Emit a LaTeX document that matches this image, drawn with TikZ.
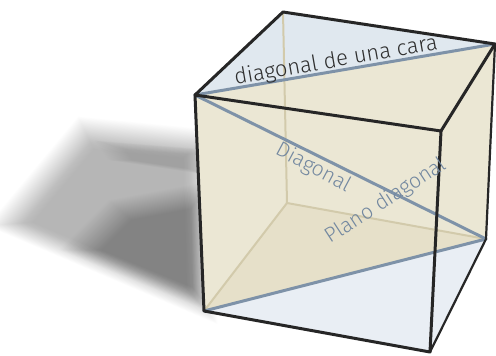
\documentclass[tikz,border=0pt]{standalone}
\usepackage{fontspec}
\setmainfont{Fira Sans Light}
\definecolor{edgeblack}{HTML}{262626}
\definecolor{hiddenbeige}{HTML}{D2CAAB}
\definecolor{diagblue}{HTML}{7E92A8}
\definecolor{planebeige}{HTML}{EBE7D4}
\definecolor{deepbeige}{HTML}{E6E0C9}
\definecolor{glassblue}{HTML}{E0E8EF}
\definecolor{floorblue}{HTML}{E9EEF4}
\definecolor{labeldark}{HTML}{2E2E2E}
\definecolor{labelblue}{HTML}{7388A0}
\begin{document}
\begin{tikzpicture}[x=1pt,y=-1pt,
  edge/.style={draw=edgeblack, line width=3pt, line join=round, line cap=round},
  thinedge/.style={draw=edgeblack, line width=2.2pt, line join=round, line cap=round},
  hidden/.style={draw=hiddenbeige, line width=2pt, line cap=round},
  diag/.style={draw=diagblue, line width=3pt, line cap=round},
  lbl/.style={font=\fontsize{21}{21}\selectfont, inner sep=0pt},
]
\useasboundingbox (0,0) rectangle (496,356);

% soft shadow on the floor, built from many thin translucent layers
\foreach \s in {1.2,1.19,...,0.8}{
  \fill[black, opacity=0.009, scale around={\s:(125,215)}]
    (86,133) -- (198,144) -- (202,306) -- (10,224) -- cycle;
}
\foreach \s in {1.25,1.24,...,0.75}{
  \fill[black, opacity=0.004, scale around={\s:(165,250)}]
    (120,210) -- (200,195) -- (202,300) -- (80,250) -- cycle;
}
\foreach \s in {1.3,1.27,...,0.7}{
  \fill[black, opacity=0.006, scale around={\s:(160,160)}]
    (110,145) -- (200,152) -- (200,172) -- (120,160) -- cycle;
}

% cube corners
\coordinate (FTL) at (195,95);
\coordinate (FTR) at (441,131);
\coordinate (FBR) at (430,352);
\coordinate (FBL) at (204,311);
\coordinate (BTL) at (283,12);
\coordinate (BTR) at (495,44);
\coordinate (BBR) at (486,239);
\coordinate (BBL) at (287,203);

% glass body
\fill[floorblue] (FTL) -- (BTL) -- (BTR) -- (BBR) -- (FBR) -- (FBL) -- cycle;
% diagonal plane
\fill[planebeige] (FTL) -- (BTR) -- (BBR) -- (FBL) -- cycle;
\fill[deepbeige] (BBL) -- (BBR) -- (FBL) -- cycle;
% upper face, in front of the plane
\fill[glassblue] (FTL) -- (BTL) -- (BTR) -- cycle;

% hidden edges
\draw[hidden] (BTL) -- (BBL);
\draw[hidden] (BBL) -- (FBL);
\draw[hidden] (BBL) -- (BBR);

% diagonals
\draw[diag] (FTL) -- (BTR);
\draw[diag] (FTL) -- (BBR);
\draw[diag] (FBL) -- (BBR);

% visible edges
\draw[thinedge] (BTR) -- (BBR) -- (FBR);
\draw[edge] (FTL) -- (BTL) -- (BTR) -- (FTR);
\draw[edge] (FTL) -- (FTR) -- (FBR) -- (FBL) -- cycle;

% labels
\node[lbl, text=labeldark, rotate=10, font=\fontsize{22}{22}\selectfont] (faceLbl) at (336,61) {diagonal de una cara};
\node[lbl, text=labelblue, rotate=-28] (diagLbl) at (313,168) {Diagonal};
\node[lbl, text=labelblue, rotate=33] (planeLbl) at (386,201) {Plano diagonal};
\end{tikzpicture}
\end{document}
